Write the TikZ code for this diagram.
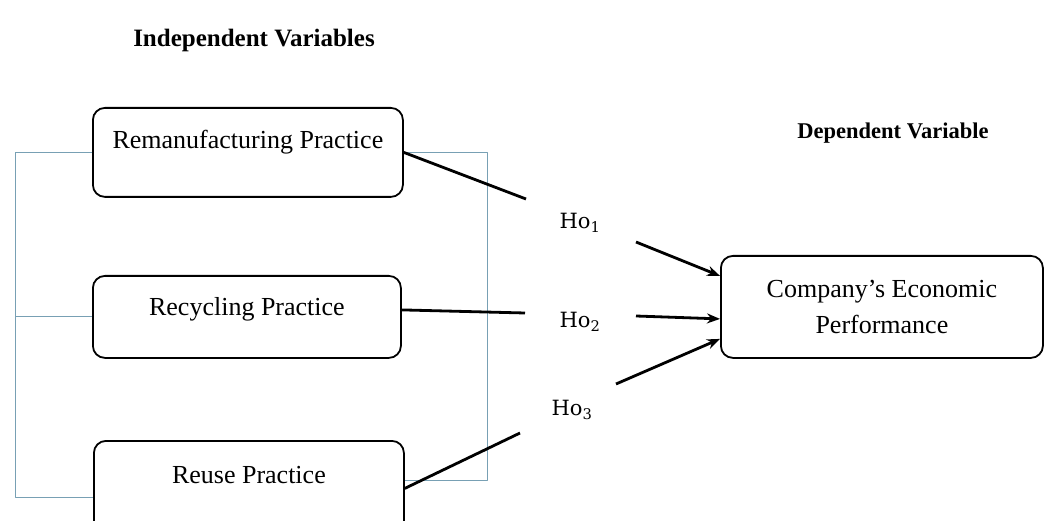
\documentclass[tikz,border=0pt]{standalone}
\usepackage{fontspec}
\setmainfont{Liberation Serif}
\newfontfamily\hofont{DejaVu Serif}
\usetikzlibrary{arrows.meta,calc}
\definecolor{linkblue}{RGB}{120,160,180}
\tikzset{
  varbox/.style={draw,rounded corners=12pt,line width=1.8pt,inner sep=0pt,
    anchor=north west,align=center,font=\fontsize{26}{36}\selectfont},
  title/.style={font=\fontsize{24}{28}\selectfont\bfseries},
  hyp/.style={font=\hofont\fontsize{21}{24}\selectfont},
  path/.style={line width=2.8pt},
  link/.style={linkblue,line width=1pt}
}
\begin{document}
\begin{tikzpicture}[x=1pt,y=-1pt,line cap=butt,line join=round]
  \clip (0,0) rectangle (1044,521);
  \useasboundingbox (0,0) rectangle (1044,521);

  % Headings.
  \node[title,font=\fontsize{25}{28}\selectfont\bfseries] (indep) at (254,40) {Independent Variables};
  \node[title,font=\fontsize{22.5}{28}\selectfont\bfseries] (dept) at (893,133) {Dependent Variable};

  % The three practices and the outcome.
  \node[varbox,minimum width=310pt,text height=41pt,text depth=48pt] (rem) at (92,107) {Remanufacturing Practice};
  \node[varbox,minimum width=308pt,text height=40pt,text depth=42pt] (rec) at (92,275) {Recycling Practice};
  \node[varbox,minimum width=310pt,text height=43pt,text depth=52pt] (reu) at (93,440) {Reuse Practice};
  \node[varbox,minimum width=322pt,minimum height=102pt] (dep) at (720,255) {Company's Economic\\Performance};

  % Hypothesis labels.
  \node[hyp] (ho1) at (580,223) {Ho\textsubscript{1}};
  \node[hyp] (ho2) at (580,322) {Ho\textsubscript{2}};
  \node[hyp] (ho3) at (572,410) {Ho\textsubscript{3}};

  % Thin brackets linking the practices.
  \coordinate (lx) at (15,0);
  \coordinate (rx) at (487,0);
  \draw[link] (rem.west) -- (rem.west -| lx) |- ($(reu.west)+(0,9)$);
  \draw[link] (rec.west) -- (rec.west -| lx);
  \draw[link] (rem.east) -- (rem.east -| rx) |- ($(reu.east)+(0,-8)$);

  % Free ends of the paths beside the labels.
  \coordinate (a1) at (526,199);
  \coordinate (a2) at (525,313);
  \coordinate (a3) at (520,433);
  \coordinate (b1) at (636,242);
  \coordinate (b2) at (636,316);
  \coordinate (b3) at (616,384);

  \draw[path] (rem.east) -- (a1);
  \draw[path] ($(rec.east)+(0,-7)$) -- (a2);
  \draw[path] (reu.east) -- (a3);

  \draw[path,-{Stealth[length=13pt,width=10pt]}] (b1) -- ($(dep.west)+(0,-31)$);
  \draw[path,-{Stealth[length=13pt,width=10pt]}] (b2) -- ($(dep.west)+(0,12)$);
  \draw[path,-{Stealth[length=13pt,width=10pt]}] (b3) -- ($(dep.west)+(0,32)$);
\end{tikzpicture}
\end{document}
